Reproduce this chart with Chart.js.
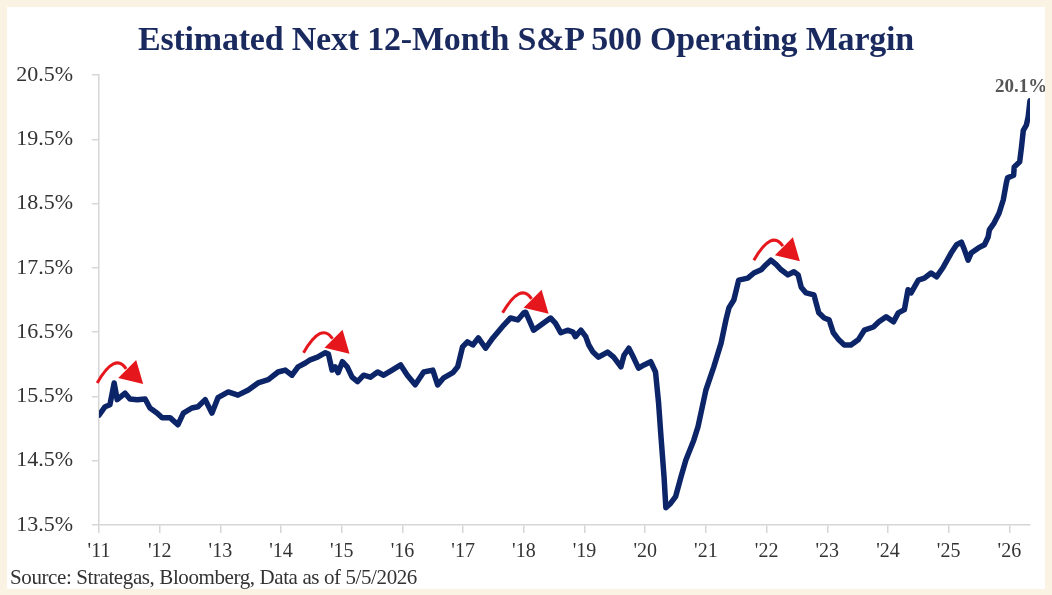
<!DOCTYPE html>
<html>
<head>
<meta charset="utf-8">
<script src="https://cdn.jsdelivr.net/npm/chart.js@4"></script>
<style>
  html, body { margin: 0; padding: 0; background: #faf2e3; }
  #panel { position: absolute; left: 7px; top: 7px; width: 1038px; height: 582px; background: #ffffff; overflow: hidden; }
  #title { position: absolute; left: 0; top: 15px; width: 100%; text-align: center;
           font: bold 34px/34px "Liberation Serif", serif; color: #1a2a5e; letter-spacing: -0.2px; }
  #source { position: absolute; left: 3px; top: 560px; font: 21px/21px "Liberation Serif", serif; color: #333;
            letter-spacing: -0.4px; }
  canvas { position: absolute; left: 0; top: 0; }
</style>
</head>
<body>
<div id="panel">
  <canvas id="marginChart" width="1038" height="582"></canvas>
  <div id="title">Estimated Next 12-Month S&amp;P 500 Operating Margin</div>
  <div id="source">Source: Strategas, Bloomberg, Data as of 5/5/2026</div>
</div>
<script>
/// values (decimal year, margin %)
const years = [
  2011.00, 2011.10, 2011.18, 2011.25, 2011.30, 2011.43, 2011.51, 2011.63, 2011.76, 2011.84,
  2011.96, 2012.04, 2012.17, 2012.30, 2012.39, 2012.53, 2012.63, 2012.75, 2012.86, 2012.96,
  2013.13, 2013.29, 2013.46, 2013.62, 2013.79, 2013.95, 2014.07, 2014.18, 2014.28, 2014.40,
  2014.48, 2014.60, 2014.73, 2014.78, 2014.84, 2014.89, 2014.94, 2015.01, 2015.09, 2015.17,
  2015.26, 2015.36, 2015.47, 2015.59, 2015.69, 2015.83, 2015.97, 2016.08, 2016.21, 2016.35,
  2016.50, 2016.58, 2016.68, 2016.83, 2016.91, 2016.99, 2017.07, 2017.16, 2017.25, 2017.37,
  2017.49, 2017.57, 2017.67, 2017.78, 2017.90, 2018.00, 2018.03, 2018.11, 2018.16, 2018.28,
  2018.44, 2018.52, 2018.61, 2018.72, 2018.81, 2018.85, 2018.94, 2019.02, 2019.07, 2019.14,
  2019.23, 2019.38, 2019.48, 2019.60, 2019.65, 2019.73, 2019.81, 2019.89, 2019.98, 2020.09,
  2020.17, 2020.22, 2020.26, 2020.31, 2020.34, 2020.42, 2020.50, 2020.59, 2020.67, 2020.80,
  2020.87, 2021.00, 2021.13, 2021.25, 2021.33, 2021.38, 2021.46, 2021.54, 2021.69, 2021.79,
  2021.91, 2021.99, 2022.07, 2022.16, 2022.24, 2022.35, 2022.45, 2022.52, 2022.57, 2022.65,
  2022.78, 2022.86, 2022.95, 2023.03, 2023.10, 2023.19, 2023.28, 2023.39, 2023.51, 2023.61,
  2023.76, 2023.85, 2023.97, 2024.09, 2024.17, 2024.27, 2024.33, 2024.38, 2024.50, 2024.60,
  2024.71, 2024.80, 2024.91, 2025.04, 2025.13, 2025.21, 2025.26, 2025.32, 2025.37, 2025.49,
  2025.59, 2025.65, 2025.67, 2025.75, 2025.83, 2025.90, 2025.95, 2025.97, 2026.07, 2026.08,
  2026.17, 2026.20, 2026.23, 2026.28, 2026.31, 2026.34
];
const margins = [
  15.21, 15.34, 15.37, 15.71, 15.45, 15.55, 15.46, 15.45, 15.46, 15.32,
  15.24, 15.17, 15.17, 15.06, 15.24, 15.32, 15.34, 15.45, 15.24, 15.48,
  15.57, 15.52, 15.60, 15.71, 15.76, 15.88, 15.91, 15.83, 15.96, 16.02,
  16.07, 16.11, 16.18, 16.16, 15.91, 15.96, 15.87, 16.04, 15.96, 15.80,
  15.73, 15.83, 15.80, 15.88, 15.83, 15.91, 15.99, 15.83, 15.68, 15.88,
  15.91, 15.68, 15.79, 15.87, 15.96, 16.27, 16.35, 16.30, 16.41, 16.25,
  16.41, 16.50, 16.61, 16.72, 16.69, 16.80, 16.81, 16.64, 16.53, 16.61,
  16.72, 16.64, 16.49, 16.53, 16.50, 16.43, 16.53, 16.43, 16.30, 16.19,
  16.11, 16.19, 16.11, 15.96, 16.14, 16.25, 16.10, 15.94, 15.99, 16.04,
  15.88, 15.40, 14.87, 14.25, 13.77, 13.84, 13.94, 14.25, 14.51, 14.82,
  15.03, 15.60, 15.96, 16.33, 16.69, 16.88, 17.00, 17.31, 17.34, 17.42,
  17.47, 17.55, 17.62, 17.55, 17.47, 17.39, 17.44, 17.39, 17.20, 17.11,
  17.08, 16.80, 16.72, 16.69, 16.49, 16.38, 16.30, 16.30, 16.38, 16.53,
  16.58, 16.66, 16.74, 16.66, 16.80, 16.85, 17.16, 17.11, 17.31, 17.34,
  17.42, 17.36, 17.51, 17.73, 17.86, 17.90, 17.78, 17.62, 17.73, 17.81,
  17.86, 17.98, 18.09, 18.20, 18.35, 18.56, 18.82, 18.90, 18.94, 19.07,
  19.15, 19.38, 19.64, 19.72, 19.85, 20.10
];
const tickYears = [2011, 2012, 2013, 2014, 2015, 2016, 2017, 2018, 2019, 2020, 2021, 2022, 2023, 2024, 2025, 2026];
const yTicks = [13.5, 14.5, 15.5, 16.5, 17.5, 18.5, 19.5, 20.5];
// red "rolling over" arrows, anchored at (year, margin)
const arrowStarts = [[2010.97, 15.71], [2014.37, 16.18], [2017.65, 16.80], [2021.79, 17.62]];

const NAVY = "#0c2468";
const RED = "#e5161c";
const AXIS = "#d6d6d6";
const FONT = "'Liberation Serif', serif";

const annotations = {
  id: "annotations",
  afterDatasetsDraw(chart) {
    const { ctx, scales } = chart;
    ctx.save();
    ctx.strokeStyle = RED;
    ctx.fillStyle = RED;
    ctx.lineWidth = 3;
    arrowStarts.forEach(([yr, v]) => {
      const sx = scales.x.getPixelForValue(yr);
      const sy = scales.y.getPixelForValue(v);
      ctx.beginPath();
      ctx.moveTo(sx, sy);
      ctx.quadraticCurveTo(sx + 18, sy - 31, sx + 29, sy - 14);
      ctx.stroke();
      ctx.beginPath();
      ctx.moveTo(sx + 21, sy - 5);
      ctx.lineTo(sx + 39, sy - 23);
      ctx.lineTo(sx + 46, sy + 1);
      ctx.closePath();
      ctx.fill();
    });
    // last value label
    const meta = chart.getDatasetMeta(0);
    const last = meta.data[meta.data.length - 1];
    ctx.fillStyle = "#555";
    ctx.font = "bold 19px " + FONT;
    ctx.textAlign = "center";
    ctx.textBaseline = "alphabetic";
    ctx.fillText(margins[margins.length - 1].toFixed(1) + "%", last.x - 9, last.y - 9);
    ctx.restore();
  },
};

new Chart(document.getElementById("marginChart"), {
  type: "line",
  data: {
    datasets: [
      {
        data: years.map((yr, i) => ({ x: yr, y: margins[i] })),
        borderColor: NAVY,
        borderWidth: 5.5,
        pointRadius: 0,
        tension: 0,
        borderJoinStyle: "round",
        borderCapStyle: "round",
      },
    ],
  },
  options: {
    responsive: false,
    animation: false,
    layout: { padding: { left: 0, right: 15, top: 68, bottom: 24 } },
    plugins: { legend: { display: false }, tooltip: { enabled: false } },
    scales: {
      x: {
        type: "linear",
        min: 2011,
        max: 2026.34,
        afterBuildTicks: (s) => { s.ticks = tickYears.map((v) => ({ value: v })); },
        afterFit: (s) => { s.height = 40; },
        border: { color: AXIS, width: 1.5 },
        grid: { drawOnChartArea: false, drawTicks: true, tickLength: 8, color: AXIS, lineWidth: 1.5 },
        ticks: {
          autoSkip: false,
          maxRotation: 0,
          padding: 7,
          color: "#333",
          font: { family: FONT, size: 20 },
          callback: (v) => "'" + String(v).slice(2),
        },
      },
      y: {
        min: 13.5,
        max: 20.5,
        afterBuildTicks: (s) => { s.ticks = yTicks.map((v) => ({ value: v })); },
        afterFit: (s) => { s.width = 92; },
        border: { color: AXIS, width: 1.5 },
        grid: { drawOnChartArea: false, drawTicks: true, tickLength: 7, color: AXIS, lineWidth: 1.5 },
        ticks: {
          padding: 19,
          color: "#333",
          font: { family: FONT, size: 22 },
          callback: (v) => v.toFixed(1) + "%",
        },
      },
    },
  },
  plugins: [annotations],
});
</script>
</body>
</html>
